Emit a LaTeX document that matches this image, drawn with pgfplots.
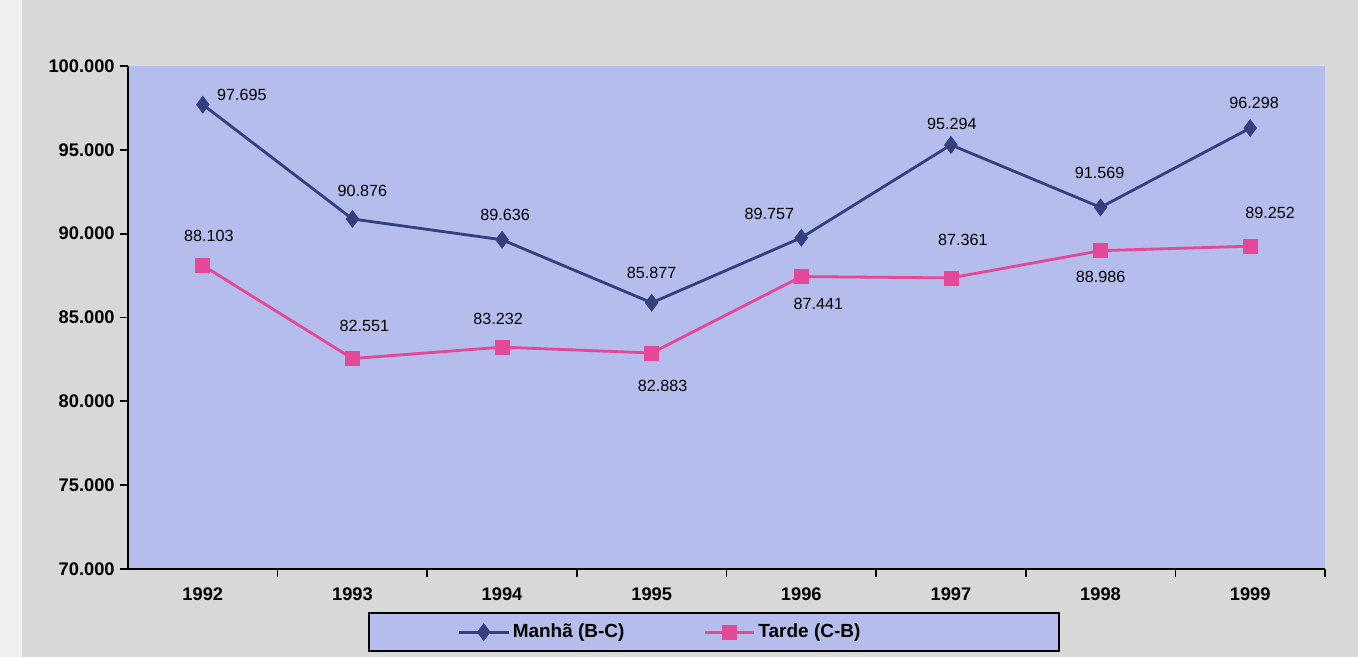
\documentclass[border=0pt]{standalone}
\usepackage{pgfplots}
\usepackage{pgfplotstable}
\pgfplotsset{compat=1.18}
\usepackage{fontspec}
\setmainfont{Liberation Sans}
\definecolor{plotbg}{RGB}{180,189,235}
\definecolor{outerbg}{RGB}{216,216,214}
\definecolor{manhac}{RGB}{52,64,125}
\definecolor{tardec}{RGB}{228,72,150}

\pgfplotstableread{
x y dx dy
0 97.695 39 10
1 90.876 10 28
2 89.636 3 25
3 85.877 0 30
4 89.757 -32 24
5 95.294 1 21
6 91.569 -1 34
7 96.298 4 25
}\tabManha

\pgfplotstableread{
x y dx dy
0 88.103 6 30
1 82.551 12 33
2 83.232 -4 28
3 82.883 11 -33
4 87.441 17 -27
5 87.361 12 38
6 88.986 0 -26
7 89.252 20 33
}\tabTarde

\begin{document}
\begin{tikzpicture}
\fill[outerbg] (0,0) rectangle (33.95cm,16.425cm);
\fill[white!60!outerbg] (0,0) rectangle (0.55cm,16.425cm);
\useasboundingbox (0,0) rectangle (33.95cm,16.425cm);
\begin{axis}[
  at={(3.2cm,2.2cm)}, anchor=south west,
  scale only axis, width=29.925cm, height=12.575cm,
  xmin=-0.5, xmax=7.5, ymin=70, ymax=100,
  axis x line*=bottom, axis y line*=left,
  axis background/.style={fill=plotbg},
  axis line style={line width=1.4pt, black},
  every tick/.style={black, line width=1.2pt},
  tick align=outside,
  xtick={0,...,7},
  xticklabels={1992,1993,1994,1995,1996,1997,1998,1999},
  major x tick style={draw=none},
  minor xtick={0.5,1.5,...,7.5},
  minor tick length=6pt, major tick length=6pt,
  ytick={70,75,...,100},
  yticklabel style={/pgf/number format/.cd, fixed, fixed zerofill, precision=3},
  /pgf/number format/assume math mode=true,
  ticklabel style={font=\fontsize{13}{15}\selectfont\bfseries},
  xticklabel style={yshift=-4pt},
  clip=false,
  visualization depends on={\thisrow{dx} \as \dx},
  visualization depends on={\thisrow{dy} \as \dy},
  nodes near coords={\pgfmathprintnumber[fixed,fixed zerofill,precision=3,assume math mode=true]{\pgfplotspointmeta}},
  every node near coord/.append style={anchor=center, font=\fontsize{11.5}{13}\selectfont, black, xshift={\dx*0.711pt}, yshift={\dy*0.711pt}},
  legend columns=2,
  legend style={at={(0.2005,-0.0855)}, anchor=north west, fill=plotbg, draw=black, line width=1.4pt,
    font=\fontsize{13.5}{15}\selectfont\bfseries, inner xsep=63pt, inner ysep=6pt,
    /tikz/every even column/.append style={column sep=54pt}},
  legend image code/.code={\draw[mark repeat=2,mark phase=2,#1] plot coordinates {(0cm,0cm) (0.62cm,0cm) (1.24cm,0cm)};},
]
\addplot[color=manhac, line width=2pt, mark=diamond*, mark size=6pt, mark options={fill=manhac, draw=manhac, line width=0.5pt}]
  table[x=x, y=y] {\tabManha};
\addlegendentry{Manhã (B-C)}
\addplot[color=tardec, line width=2pt, mark=square*, mark size=5pt, mark options={fill=tardec, draw=tardec, line width=0.5pt}]
  table[x=x, y=y] {\tabTarde};
\addlegendentry{Tarde (C-B)\rule{76pt}{0pt}}
\end{axis}
\end{tikzpicture}
\end{document}
